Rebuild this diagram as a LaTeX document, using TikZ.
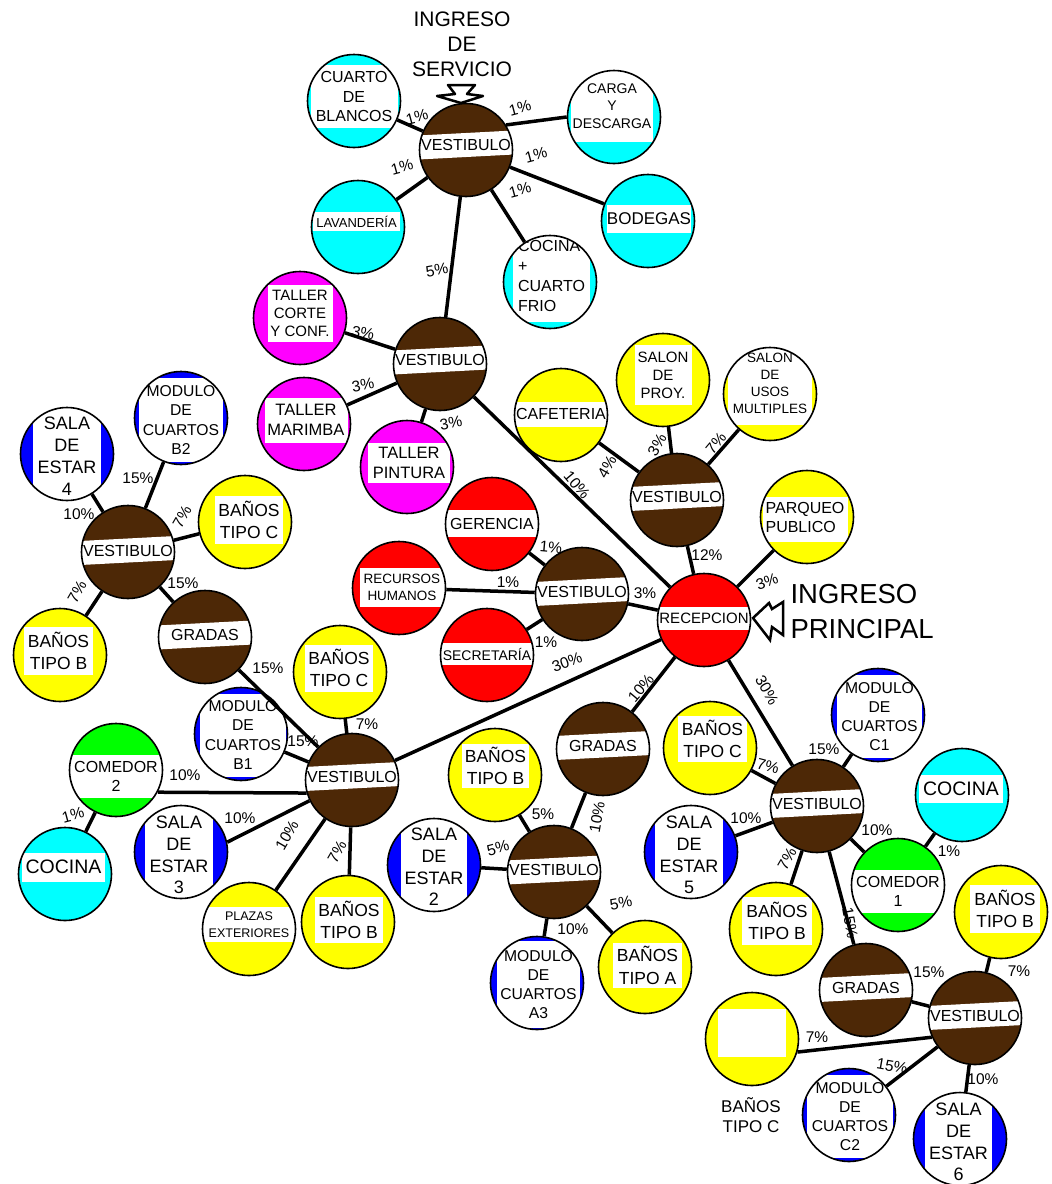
\documentclass[tikz,border=0pt]{standalone}
\usepackage{fontspec}
\setmainfont{Liberation Sans}
\usetikzlibrary{positioning}

\definecolor{hallbrown}{RGB}{77,40,6}
\definecolor{aqua}{RGB}{0,255,255}
\definecolor{fuchsia}{RGB}{255,0,255}
\definecolor{lemon}{RGB}{255,255,0}
\definecolor{scarlet}{RGB}{255,0,0}
\definecolor{royal}{RGB}{0,0,255}
\definecolor{lime}{RGB}{0,255,0}

\begin{document}
\begin{tikzpicture}[
    x=1pt, y=-1pt,
    every node/.style={font=\fontsize{16}{19}\selectfont},
    link/.style={line width=3.5pt},
    pct/.style={font=\fontsize{15.5}{17}\selectfont, inner sep=0pt},
    band/.style={rectangle, draw=none, fill=white, inner sep=0pt, line width=0pt},
    bubble/.style n args={6}{circle, draw=black, line width=1.6pt, minimum size=93pt, inner sep=0pt, fill=#1,
        path picture={\node[band, minimum width=#2, minimum height=#3, align=center, font=#5]
            at ([shift={(#4)}]path picture bounding box.center) {#6};}},
    hall/.style n args={2}{circle, draw=black, line width=1.6pt, minimum size=93pt, inner sep=0pt, fill=hallbrown,
        path picture={\node[band, minimum width=100pt, minimum height=24pt, rotate=3]
            at ([shift={(0,#1)}]path picture bounding box.center) {};
            \node[band, fill=none, minimum width=0pt, minimum height=0pt, font=\fontsize{16}{18}\selectfont]
            at ([shift={(0,#1)}]path picture bounding box.center) {#2};}}
]

\useasboundingbox (0,0) rectangle (1052,1184);

% Service zone
\node[hall={-5}{VESTIBULO}] (v1) at (466,150) {};
\node[bubble={aqua}{87pt}{63pt}{0,-4.5}{\fontsize{16}{19.5}\selectfont}{CUARTO\\DE\\BLANCOS}] (blancos) at (354,101) {};
\node[bubble={aqua}{82pt}{72pt}{-2,-11}{\fontsize{14}{17.5}\selectfont}{CARGA\\Y\\DESCARGA}] (carga) at (614,117) {};
\node[bubble={aqua}{87pt}{19pt}{-1.5,-5.5}{\fontsize{13}{15}\selectfont}{LAVANDERÍA}] (lavanderia) at (358,227) {};
\node[bubble={aqua}{84pt}{28pt}{1,-2}{\fontsize{17}{19}\selectfont}{BODEGAS}] (bodegas) at (648,221) {};
\node[bubble={aqua}{77pt}{89pt}{1.5,-4.5}{\fontsize{16}{20}\selectfont}{\begin{tabular}{@{}l@{}}COCINA\\+\\CUARTO\\FRIO\end{tabular}}] (cocinafrio) at (550,282) {};

\node[font=\fontsize{21}{25}\selectfont, align=center] (servicio) at (462,44) {INGRESO\\DE\\SERVICIO};
\draw[line width=2.5pt, fill=white, line join=round]
    (448,85) -- (475,85) -- (467,94) -- (483,96) -- (461,103) -- (437,96) -- (455,94) -- cycle;

% Workshops
\node[hall={-4}{VESTIBULO}] (v2) at (440,364) {};
\node[bubble={fuchsia}{65pt}{57pt}{0,-4.5}{\fontsize{15}{18}\selectfont}{TALLER\\CORTE\\Y CONF.}] (corte) at (300,318) {};
\node[bubble={fuchsia}{83pt}{45pt}{2,-4}{\fontsize{16.5}{20}\selectfont}{TALLER\\MARIMBA}] (marimba) at (304,424) {};
\node[bubble={fuchsia}{82pt}{40pt}{2,-4}{\fontsize{16.5}{20}\selectfont}{TALLER\\PINTURA}] (pintura) at (407,467) {};

% Halls
\node[hall={-3.5}{VESTIBULO}] (v3) at (677,500) {};
\node[bubble={lemon}{100pt}{25pt}{0,-1}{\fontsize{16}{19}\selectfont}{CAFETERIA}] (cafeteria) at (561,415) {};
\node[bubble={lemon}{57pt}{60pt}{0,-5}{\fontsize{15}{18}\selectfont}{SALON\\DE\\PROY.}] (proy) at (663,380) {};
\node[bubble={lemon}{84pt}{84pt}{0,-11}{\fontsize{13.5}{17}\selectfont}{SALON\\DE\\USOS\\MULTIPLES}] (usos) at (770,394) {};
\node[bubble={lemon}{85pt}{45pt}{-2,2.5}{\fontsize{16}{19}\selectfont}{\begin{tabular}{@{}l@{}}PARQUEO\\PUBLICO\end{tabular}}] (parqueo) at (807,517) {};

% Reception and administration
\node[bubble={scarlet}{100pt}{23pt}{0,-1.5}{\fontsize{15}{18}\selectfont}{RECEPCION}] (recepcion) at (704,620) {};
\node[font=\fontsize{27.5}{35}\selectfont, align=left, anchor=west] (principal) at (787,612) {INGRESO\\PRINCIPAL};
\draw[line width=2.5pt, fill=white, line join=miter]
    (753,618) -- (769,603) -- (772,609) -- (783,602) -- (783,635) -- (772,627) -- (770,640) -- cycle;

\node[hall={-2.5}{VESTIBULO}] (vadmin) at (582,594) {};
\node[bubble={scarlet}{100pt}{27pt}{0,-0.5}{\fontsize{16}{19}\selectfont}{GERENCIA}] (gerencia) at (492,524) {};
\node[bubble={scarlet}{85pt}{39pt}{3,-1}{\fontsize{13.5}{16.7}\selectfont}{RECURSOS\\HUMANOS}] (rrhh) at (399,588) {};
\node[bubble={scarlet}{100pt}{22pt}{0,-1}{\fontsize{14}{17}\selectfont}{SECRETARÍA}] (secretaria) at (487,655) {};

% Module B
\node[hall={-1.5}{VESTIBULO}] (vleft) at (128,552) {};
\node[bubble={royal}{68pt}{100pt}{0,2}{\fontsize{18}{22}\selectfont}{SALA\\DE\\ESTAR\\4}] (sala4) at (67,454) {};
\node[bubble={royal}{84pt}{84pt}{0,2}{\fontsize{15.7}{19.2}\selectfont}{MODULO\\DE\\CUARTOS\\B2}] (moduloB2) at (181,418) {};
\node[bubble={lemon}{68pt}{48pt}{4,-2}{\fontsize{17.5}{22.5}\selectfont}{BAÑOS\\TIPO C}] (banosC1) at (245,522) {};
\node[bubble={lemon}{69pt}{48pt}{-1.5,-4}{\fontsize{17.5}{22.5}\selectfont}{BAÑOS\\TIPO B}] (banosB1) at (60,655) {};
\node[hall={-2}{GRADAS}] (gradas1) at (205,637) {};

\node[hall={-3.5}{VESTIBULO}] (vml) at (352,780) {};
\node[bubble={lemon}{68pt}{47pt}{-1,-4}{\fontsize{17.5}{22.5}\selectfont}{BAÑOS\\TIPO C}] (banosC2) at (340,672) {};
\node[bubble={royal}{86pt}{83pt}{2,1}{\fontsize{15.7}{19.2}\selectfont}{MODULO\\DE\\CUARTOS\\B1}] (moduloB1) at (241,734) {};
\node[bubble={lime}{100pt}{43pt}{0,6}{\fontsize{16}{19}\selectfont}{COMEDOR\\2}] (comedor2) at (116,770) {};
\node[bubble={aqua}{83pt}{29pt}{-1.5,-7}{\fontsize{19.5}{22}\selectfont}{COCINA}] (cocina2) at (65,874) {};
\node[bubble={royal}{68pt}{100pt}{-2,3}{\fontsize{18}{21.7}\selectfont}{SALA\\DE\\ESTAR\\3}] (sala3) at (181,852) {};
\node[bubble={lemon}{100pt}{35pt}{0,-4.5}{\fontsize{12.5}{16.5}\selectfont}{PLAZAS\\EXTERIORES}] (plazas) at (249,929) {};
\node[bubble={lemon}{68pt}{46pt}{1,-2}{\fontsize{17.5}{22.5}\selectfont}{BAÑOS\\TIPO B}] (banosB2) at (348,922) {};

% Module A
\node[hall={-3.5}{GRADAS}] (gradas2) at (603,749) {};
\node[hall={-2}{VESTIBULO}] (vcb) at (554,872) {};
\node[bubble={lemon}{67pt}{44pt}{0.5,-9}{\fontsize{17.5}{22.5}\selectfont}{BAÑOS\\TIPO B}] (banosB3) at (495,775) {};
\node[bubble={royal}{66pt}{100pt}{0,2}{\fontsize{18}{21.7}\selectfont}{SALA\\DE\\ESTAR\\2}] (sala2) at (434,865) {};
\node[bubble={royal}{83pt}{87pt}{1.5,1.5}{\fontsize{15.7}{19.2}\selectfont}{MODULO\\DE\\CUARTOS\\A3}] (moduloA3) at (537,983) {};
\node[bubble={lemon}{69pt}{45pt}{2.5,-1.5}{\fontsize{17.5}{22.5}\selectfont}{BAÑOS\\TIPO A}] (banosA) at (645,967) {};

% Module C
\node[hall={-2.5}{VESTIBULO}] (vright) at (817,806) {};
\node[bubble={royal}{85pt}{83pt}{1.5,1.5}{\fontsize{15.7}{19.2}\selectfont}{MODULO\\DE\\CUARTOS\\C1}] (moduloC1) at (878,715) {};
\node[bubble={lemon}{69pt}{46pt}{2.5,-9}{\fontsize{17.5}{22.5}\selectfont}{BAÑOS\\TIPO C}] (banosC3) at (710,748) {};
\node[bubble={aqua}{84pt}{28pt}{-1,-6}{\fontsize{19.5}{22}\selectfont}{COCINA}] (cocina1) at (962,795) {};
\node[bubble={royal}{68pt}{100pt}{-2,3}{\fontsize{18}{21.7}\selectfont}{SALA\\DE\\ESTAR\\5}] (sala5) at (691,852) {};
\node[bubble={lime}{100pt}{43pt}{0,6.5}{\fontsize{16}{19}\selectfont}{COMEDOR\\1}] (comedor1) at (898,885) {};
\node[bubble={lemon}{70pt}{48pt}{1,-8}{\fontsize{17.5}{22.5}\selectfont}{BAÑOS\\TIPO B}] (banosB4) at (776,929) {};
\node[bubble={lemon}{70pt}{48pt}{4,-3}{\fontsize{17.5}{22.5}\selectfont}{BAÑOS\\TIPO B}] (banosB5) at (1001,912) {};
\node[hall={-2.5}{GRADAS}] (gradas3) at (866,990) {};
\node[hall={-2.5}{VESTIBULO}] (vbr) at (975,1018) {};
\node[bubble={lemon}{68pt}{48pt}{0,-6}{\fontsize{16}{19}\selectfont}{}] (banosC4) at (752,1039) {};
\node[font=\fontsize{17}{20}\selectfont, align=center] (banosC4txt) at (751,1115) {BAÑOS\\TIPO C};
\node[bubble={royal}{86pt}{83pt}{1,1.5}{\fontsize{15.7}{19.2}\selectfont}{MODULO\\DE\\CUARTOS\\C2}] (moduloC2) at (849,1115) {};
\node[bubble={royal}{67pt}{100pt}{-1.5,3}{\fontsize{18}{21.7}\selectfont}{SALA\\DE\\ESTAR\\6}] (sala6) at (960,1139) {};

% Connections
\foreach \a/\b in {v1/blancos, v1.32/carga.180, v1/lavanderia, v1/bodegas, v1/cocinafrio, v1/v2,
    v2/corte, v2/marimba, v2/pintura, v2/recepcion,
    v3/cafeteria, v3/proy, v3/usos, v3/recepcion,
    recepcion/parqueo, recepcion/vadmin, recepcion/vml, recepcion/gradas2, recepcion/vright,
    vadmin/gerencia, vadmin/rrhh, vadmin/secretaria,
    vleft/sala4, vleft/moduloB2, vleft/banosC1, vleft/banosB1, vleft/gradas1, gradas1/vml,
    vml/banosC2, vml/moduloB1, vml.196/comedor2.332, vml.206/sala3.12, vml/plazas, vml/banosB2, comedor2/cocina2,
    gradas2/vcb, vcb/banosB3, vcb/sala2, vcb/moduloA3, vcb/banosA,
    vright/moduloC1, vright/banosC3, vright/sala5, vright/comedor1, vright/banosB4, vright/gradas3,
    comedor1/cocina1, gradas3/vbr, vbr/banosB5, vbr.204/banosC4.344, vbr/moduloC2, vbr/sala6} {
    \draw[link] (\a) -- (\b);
}

% Percentages
\foreach \x/\y/\r/\p [count=\i] in {
    417/117/15/1, 520/108/15/1, 402/167/15/1, 536/155/15/1, 520/190/15/1, 437/270/10/5,
    363/333/-10/3, 363/385/10/3, 451/423/10/3, 577/485/-50/10,
    607/467/60/4, 657/445/60/3, 716/443/50/7, 707/555/0/12,
    767/582/20/3, 645/593/0/3, 567/662/20/30, 641/688/50/10, 767/690/-60/30,
    551/547/-5/1, 508/582/0/1, 546/642/0/1,
    79/514/0/10, 138/478/0/15, 182/517/60/7, 77/592/60/7, 183/583/0/15, 268/668/0/15,
    367/724/0/7, 303/741/0/15, 185/775/0/10, 240/818/0/10, 287/835/60/10, 337/852/60/7, 73/815/15/1,
    597/817/80/10, 543/814/0/5, 498/848/15/5, 573/929/0/10, 621/903/10/5,
    824/749/0/15, 768/766/-15/7, 746/818/0/10, 877/830/0/10, 787/859/60/7, 850/923/-80/15,
    949/851/0/1, 929/972/0/15, 1019/971/0/7, 817/1037/0/7, 892/1066/-10/15, 983/1079/0/10} {
    \node[pct, rotate=\r] (pc\i) at (\x,\y) {\p\%};
}

\end{tikzpicture}
\end{document}
